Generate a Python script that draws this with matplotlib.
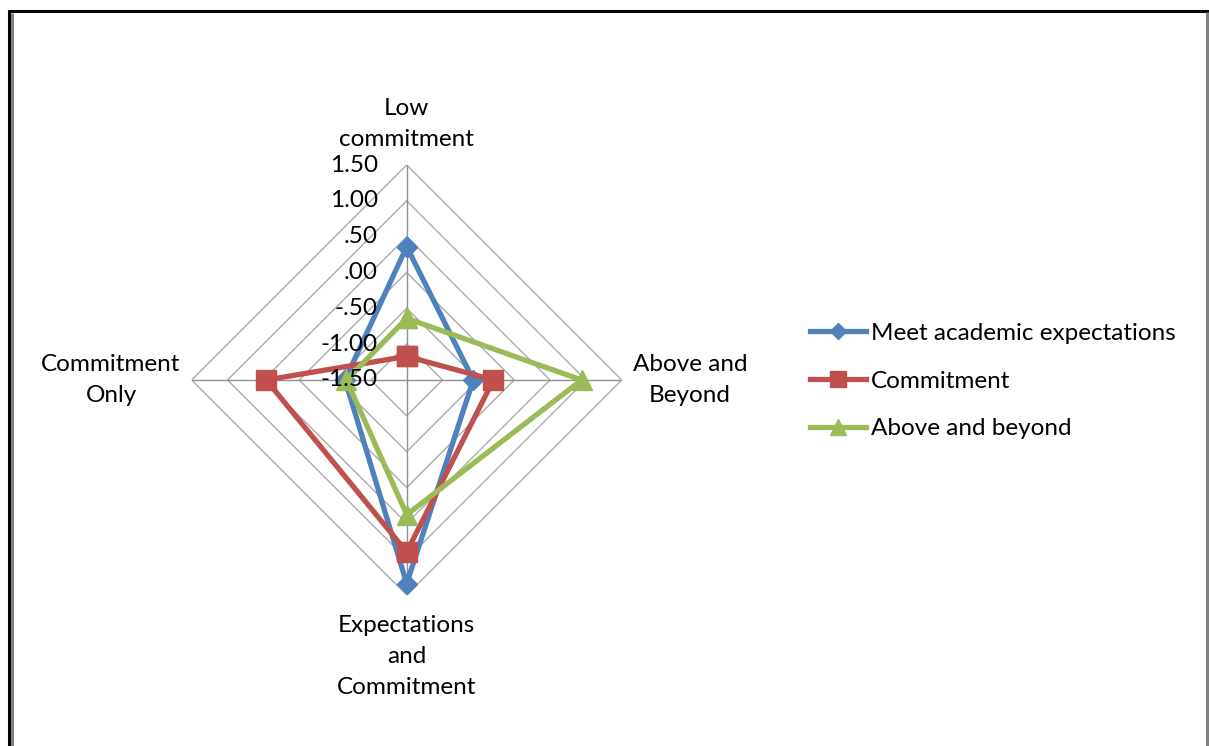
import numpy as np
import matplotlib
matplotlib.use("Agg")
import matplotlib.pyplot as plt
from matplotlib.lines import Line2D
from matplotlib.transforms import offset_copy

plt.rcParams['font.family'] = ['Lato', 'DejaVu Sans']

categories = ["Low\ncommitment", "Above and\nBeyond", "Expectations\nand\nCommitment", "Commitment\nOnly"]
series_names = ["Meet academic expectations", "Commitment", "Above and beyond"]
meet_academic = [0.36, -0.57, 1.34, -0.64]
commitment = [-1.17, -0.29, 0.90, 0.46]
above_beyond = [-0.64, 0.94, 0.38, -0.66]
ring_values = [-1.5, -1.0, -0.5, 0.0, 0.5, 1.0, 1.5]
ring_labels = ["-1.50", "-1.00", "-.50", ".00", ".50", "1.00", "1.50"]

colors = ["#4F81BD", "#C0504D", "#9BBB59"]
markers = ["D", "s", "^"]
msizes = [10, 14, 15]
FS = 17.5

W, H = 1209, 746
fig = plt.figure(figsize=(W / 100, H / 100), dpi=100)

cx, cy, R = 406.7, 380, 215
ax = fig.add_axes([(cx - R) / W, (H - cy - R) / H, 2 * R / W, 2 * R / H], projection='polar')
ax.set_theta_offset(np.pi / 2)
ax.set_theta_direction(-1)
ax.set_ylim(-1.5, 1.5)
ax.grid(False)
ax.set_xticks([])
ax.set_yticks([])
ax.spines['polar'].set_visible(False)
ax.patch.set_visible(False)

n = len(categories)
angles = np.arange(n) * 2 * np.pi / n
closed = np.concatenate([angles, angles[:1]])

# diamond grid rings
for v in ring_values[1:]:
    ax.plot(closed, [v] * (n + 1), color="#ABABAB", lw=1.0, zorder=1)
# spokes
for a in angles:
    ax.plot([a, a], [-1.5, 1.5], color="#909090", lw=1.0, zorder=1)

# tick labels
lab_tr = offset_copy(ax.transData, fig=fig, x=-29, y=0, units='dots')
for v, lab in zip(ring_values, ring_labels):
    ax.text(0, v, lab, transform=lab_tr, ha='right', va='center', fontsize=FS, color='black', zorder=5)

# category labels
cat_specs = [
    (0, 15, 'center', 'bottom'),
    (11, 0, 'left', 'center'),
    (0, -20, 'center', 'top'),
    (-11, 0, 'right', 'center'),
]
for a, lab, (dx, dy, ha, va) in zip(angles, categories, cat_specs):
    tr = offset_copy(ax.transData, fig=fig, x=dx, y=dy, units='dots')
    ax.text(a, 1.5, lab, transform=tr, ha=ha, va=va, multialignment='center',
            fontsize=FS, linespacing=1.6, color='black')

handles = []
for vals, c, m, ms, name in zip([meet_academic, commitment, above_beyond], colors, markers, msizes, series_names):
    data = list(vals) + [vals[0]]
    h, = ax.plot(closed, data, color=c, lw=3.8, marker=m, markersize=ms,
                 markerfacecolor=c, markeredgecolor=c, label=name, zorder=3, clip_on=False)
    handles.append(h)

leg = fig.legend(handles=handles, loc='center left', bbox_to_anchor=(810 / W, (H - 381) / H),
                 frameon=False, fontsize=FS, handlelength=2.3, handletextpad=0.2,
                 labelspacing=1.1, borderpad=0, borderaxespad=0)
for lh, ms in zip(leg.legend_handles, [8, 11, 11]):
    lh.set_markersize(ms)

# outer frame
def fline(xs, ys, color, lw):
    fig.add_artist(Line2D([x / W for x in xs], [1 - y / H for y in ys], color=color, lw=lw,
                          transform=fig.transFigure, solid_capstyle='butt'))

fline([9, 9], [10, 746], 'black', 2.2)
fline([8, 1209], [11, 11], 'black', 2.2)
fline([12, 12], [13, 746], '#808080', 2.2)
fline([1207, 1207], [12, 746], '#808080', 2.2)

fig.savefig("out.png", dpi=100)
